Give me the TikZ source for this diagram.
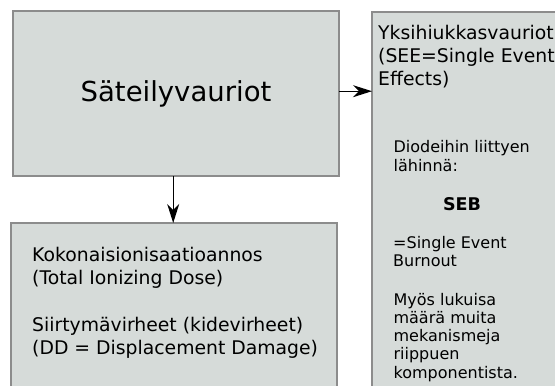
\documentclass[tikz,border=0pt]{standalone}
\usepackage{fontspec}
\setmainfont{DejaVu Sans}
\usetikzlibrary{arrows.meta}
\definecolor{boxfill}{RGB}{214,219,217}
\definecolor{boxline}{RGB}{140,140,140}
\begin{document}
\begin{tikzpicture}[x=1pt,y=-1pt,
  panel/.style={draw=boxline,fill=boxfill,line width=2pt,inner sep=0pt,outer sep=0pt,anchor=north west},
  % multi-line texts are placed by the baseline of their last line
  headtext/.style={inner sep=0pt,anchor=base west,align=left,font=\fontsize{18.8}{23}\selectfont},
  smalltext/.style={inner sep=0pt,anchor=base west,align=left,font=\fontsize{16}{18.3}\selectfont},
  link/.style={line width=1.3pt,-{Stealth[length=19pt,width=12pt,inset=6pt]}}]
\useasboundingbox (0,0) rectangle (555,386);
\clip (0,0) rectangle (555,386);
% three panels
\node[panel,minimum width=326pt,minimum height=165pt,font=\fontsize{27.5}{33}\selectfont] (vaur) at (13,11) {Säteilyvauriot};
\node[panel,minimum width=200pt,minimum height=400pt] (see) at (372,12) {};
\node[panel,minimum width=326pt,minimum height=200pt] (tid) at (11,223) {};
% texts of the right panel
\node[headtext] (seehead) at (378,85.3) {Yksihiukkasvauriot\\(SEE=Single Event\\Effects)};
\node[smalltext] (diod) at (393.4,171) {Diodeihin liittyen\\lähinnä:};
\node[inner sep=0pt,anchor=base,font=\bfseries\fontsize{17.5}{20}\selectfont] (seb) at (462,210) {SEB};
\node[smalltext] (burn) at (393,266.6) {=Single Event\\Burnout};
\node[smalltext] (muut) at (393.4,378.2) {Myös lukuisa\\määrä muita\\mekanismeja\\riippuen\\komponentista.};
% texts of the lower panel
\node[headtext] (tidtxt) at (32,284.7) {Kokonaisionisaatioannos\\(Total Ionizing Dose)};
\node[headtext] (ddtxt) at (32,354.7) {Siirtymävirheet (kidevirheet)\\(DD = Displacement Damage)};
% connectors
\draw[link] ([yshift=2.3pt]vaur.east) -- ([yshift=2.3pt]vaur.east -| see.west);
\draw[link] ([xshift=-2.8pt]vaur.south) -- ([xshift=-2.8pt]vaur.south |- tid.north);
\end{tikzpicture}
\end{document}
